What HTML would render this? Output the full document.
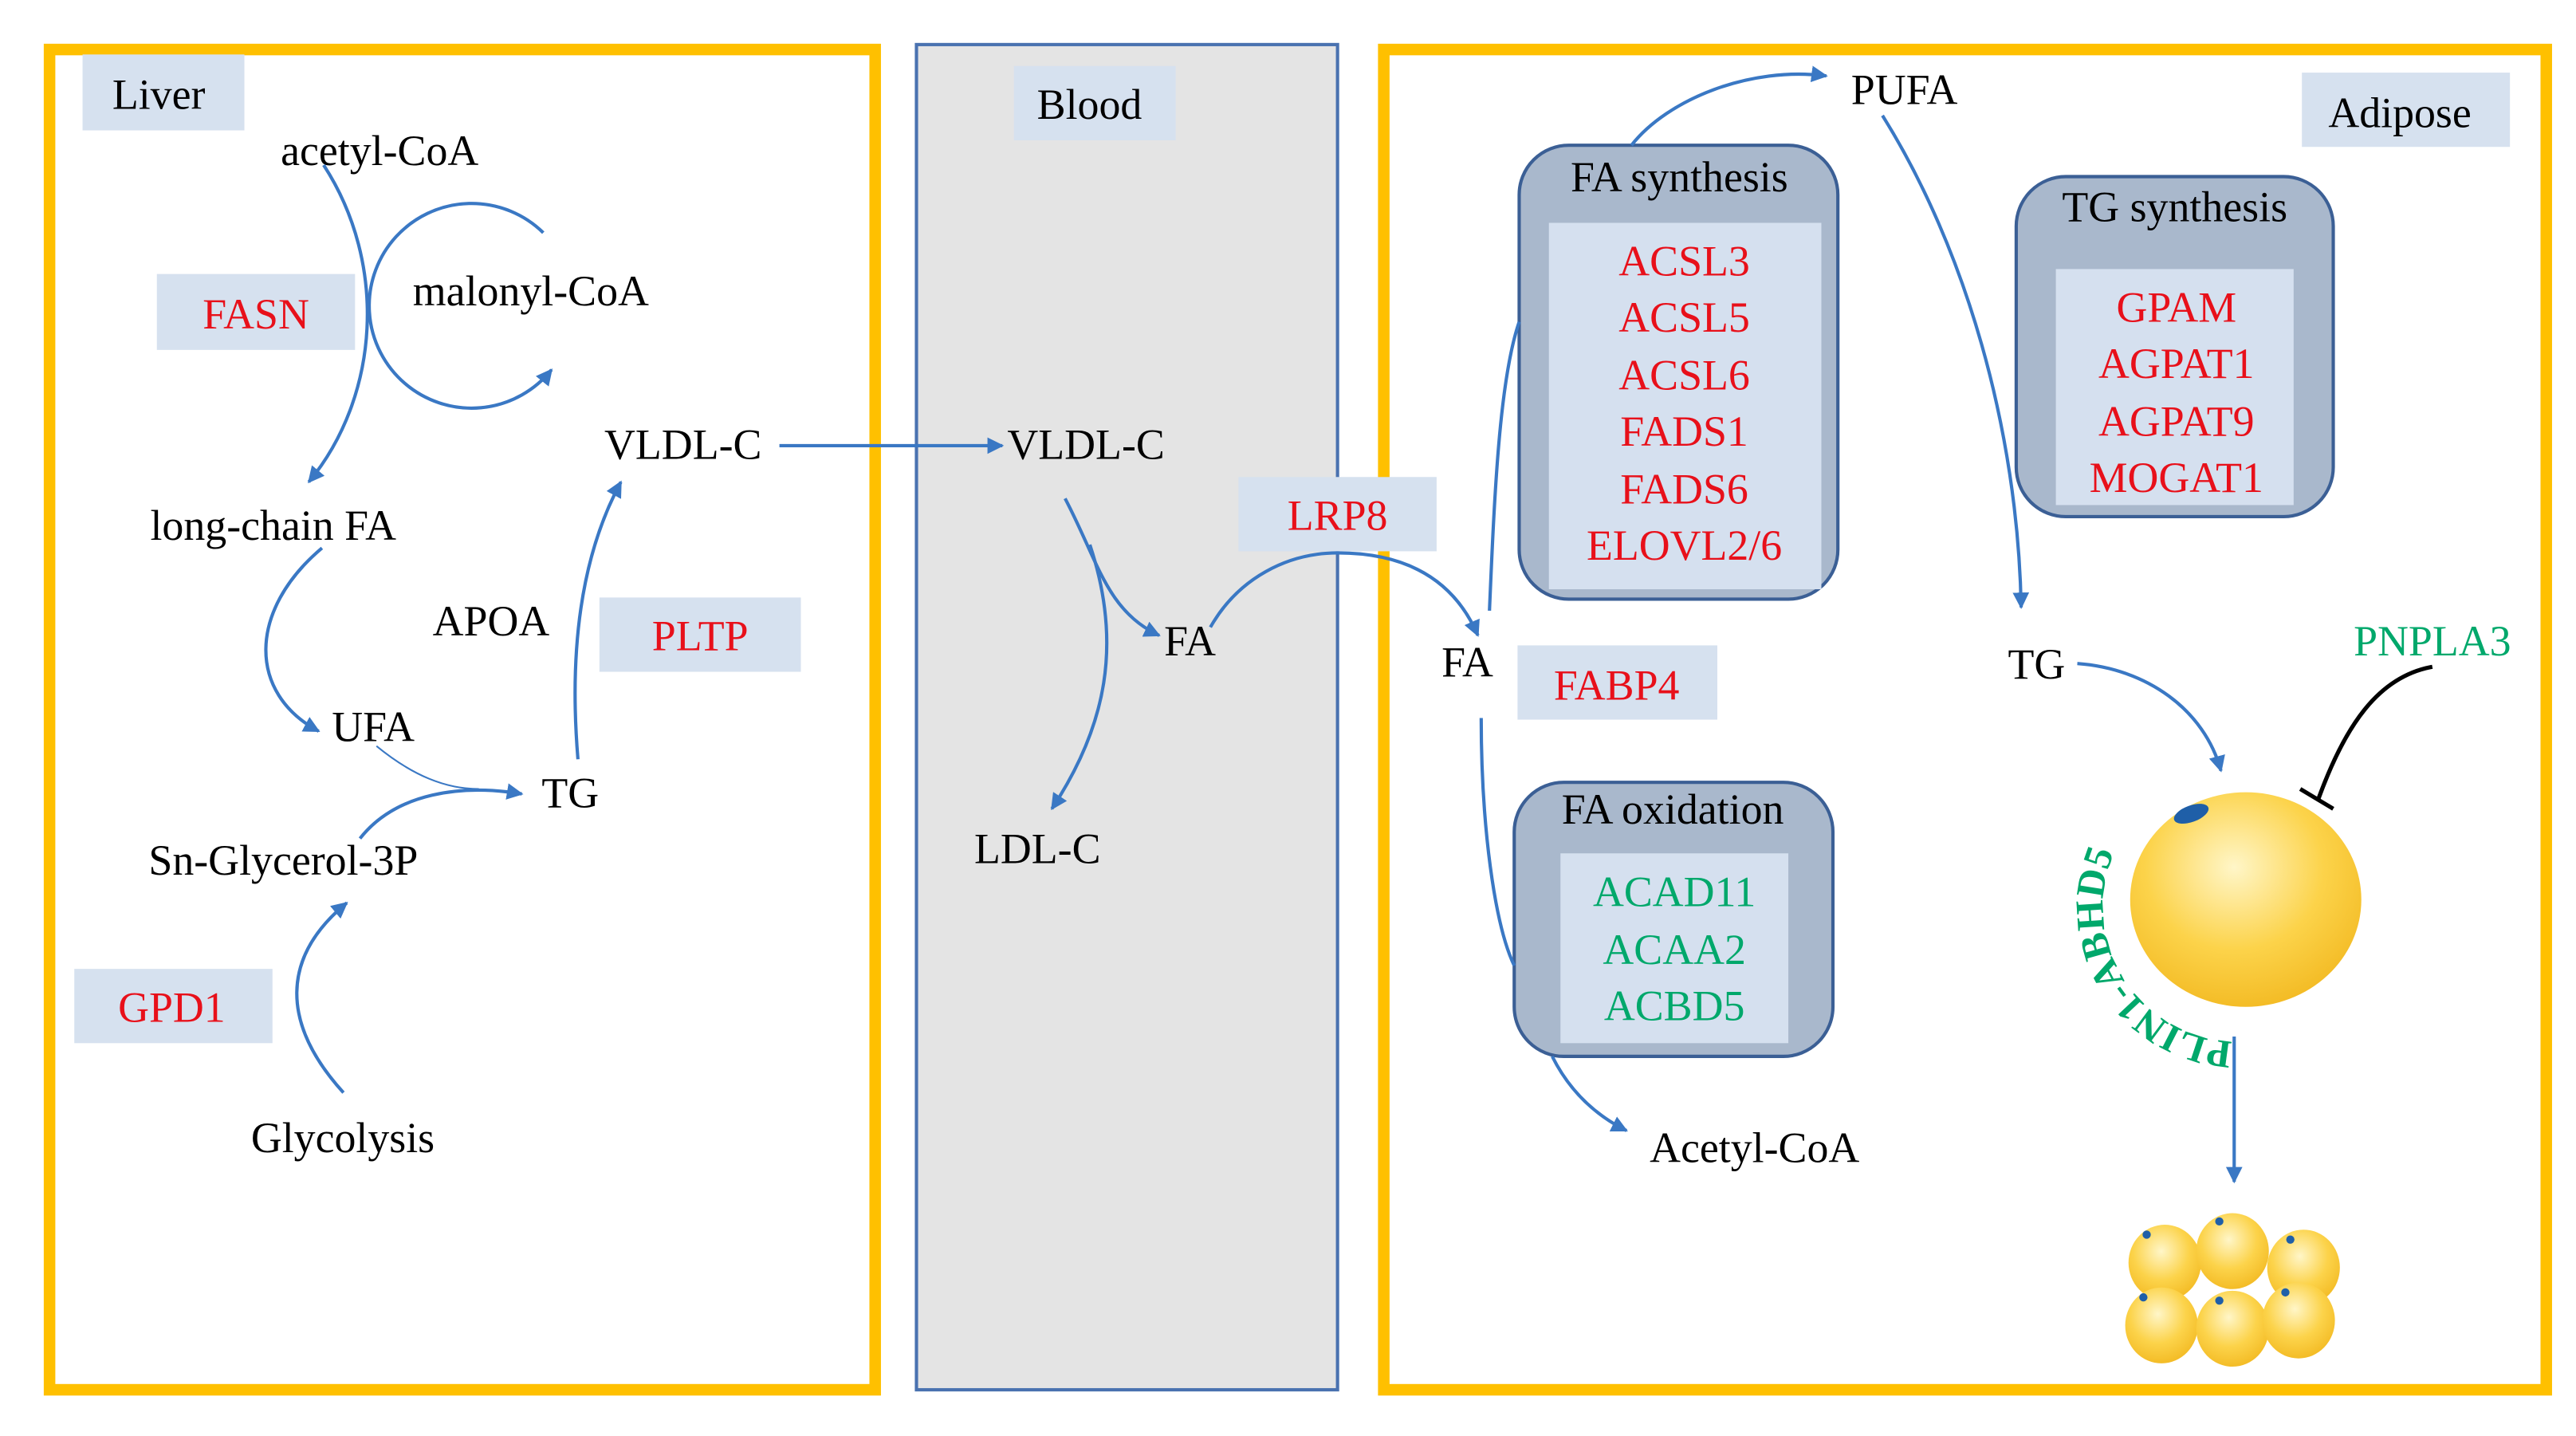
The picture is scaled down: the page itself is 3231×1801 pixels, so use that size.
<!DOCTYPE html>
<html><head><meta charset="utf-8"><style>html,body{margin:0;padding:0;background:#fff}svg{display:block}</style></head>
<body>
<svg width="3231" height="1801" viewBox="0 0 1560 870" preserveAspectRatio="none" xmlns="http://www.w3.org/2000/svg" font-family="'Liberation Serif', serif">
<defs>
<marker id="a" viewBox="0 0 10 10" refX="9" refY="5" markerWidth="5" markerHeight="5" orient="auto"><path d="M0,0 L10,5 L0,10 z" fill="#3a78c4"/></marker>
<radialGradient id="g" cx="0.45" cy="0.35" r="0.7"><stop offset="0" stop-color="#fff6c8"/><stop offset="0.55" stop-color="#fcd34a"/><stop offset="1" stop-color="#f2b820"/></radialGradient>
</defs>
<rect x="0" y="0" width="1560" height="870" fill="#fff"/>
<rect x="30" y="30" width="500" height="812" fill="#fff" stroke="#ffc000" stroke-width="7"/>
<rect x="555" y="27" width="255" height="815" fill="#e4e4e4" stroke="#4a72b0" stroke-width="2"/>
<rect x="838" y="30" width="704" height="812" fill="#fff" stroke="#ffc000" stroke-width="7"/>
<g fill="#d6e1ef">
<rect x="50" y="33" width="98" height="46"/><rect x="614" y="40" width="98" height="45"/><rect x="1394" y="44" width="126" height="45"/>
<rect x="95" y="166" width="120" height="46"/><rect x="363" y="362" width="122" height="45"/><rect x="45" y="587" width="120" height="45"/>
<rect x="750" y="289" width="120" height="45"/><rect x="919" y="391" width="121" height="45"/>
</g>
<g fill="#a9b8cc" stroke="#3b5f95" stroke-width="2">
<rect x="920" y="88" width="193" height="275" rx="30"/><rect x="1221" y="107" width="192" height="206" rx="30"/><rect x="917" y="474" width="193" height="166" rx="30"/>
</g>
<g fill="#d5e0ef"><rect x="938" y="135" width="165" height="222"/><rect x="1245" y="163" width="144" height="143"/><rect x="945" y="517" width="138" height="115"/></g>
<g font-size="26" fill="#000">
<text x="68" y="66">Liver</text><text x="628" y="72">Blood</text><text x="1410" y="77">Adipose</text>
<text x="170" y="100">acetyl-CoA</text><text x="250" y="185">malonyl-CoA</text><text x="366" y="278">VLDL-C</text>
<text x="91" y="327">long-chain FA</text><text x="262" y="385">APOA</text><text x="201" y="449">UFA</text><text x="328" y="489">TG</text>
<text x="90" y="530">Sn-Glycerol-3P</text><text x="152" y="698">Glycolysis</text>
<text x="610" y="278">VLDL-C</text><text x="705" y="397">FA</text><text x="590" y="523">LDL-C</text>
<text x="1121" y="63">PUFA</text><text x="873" y="410">FA</text><text x="1216" y="411">TG</text><text x="999" y="704">Acetyl-CoA</text>
<text x="1017" y="116" text-anchor="middle">FA synthesis</text><text x="1317" y="134" text-anchor="middle">TG synthesis</text><text x="1013" y="499" text-anchor="middle">FA oxidation</text>
</g>
<g font-size="26" fill="#e8101a" text-anchor="middle">
<text x="155" y="199">FASN</text><text x="424" y="394">PLTP</text><text x="104" y="619">GPD1</text><text x="810" y="321">LRP8</text><text x="979" y="424">FABP4</text>
<text x="1020" y="167">ACSL3</text><text x="1020" y="201">ACSL5</text><text x="1020" y="236">ACSL6</text><text x="1020" y="270">FADS1</text><text x="1020" y="305">FADS6</text><text x="1020" y="339">ELOVL2/6</text>
<text x="1318" y="195">GPAM</text><text x="1318" y="229">AGPAT1</text><text x="1318" y="264">AGPAT9</text><text x="1318" y="298">MOGAT1</text>
</g>
<g font-size="26" fill="#00a86b" text-anchor="middle">
<text x="1014" y="549">ACAD11</text><text x="1014" y="584">ACAA2</text><text x="1014" y="618">ACBD5</text>
<text x="1473" y="397">PNPLA3</text>
</g>
<g fill="none" stroke="#3a78c4" stroke-width="2">
<path d="M196,100 C235,160 230,240 187,292" marker-end="url(#a)"/>
<path d="M329,141 A62,62 0 1 0 334,224" marker-end="url(#a)"/>
<path d="M195,332 C150,370 150,420 193,443" marker-end="url(#a)"/>
<path d="M228,452 C250,470 270,478 290,478" stroke-width="1"/>
<path d="M218,508 C240,480 280,475 316,481" marker-end="url(#a)"/>
<path d="M350,460 C345,400 350,340 376,292" marker-end="url(#a)"/>
<path d="M208,662 C170,620 170,580 210,547" marker-end="url(#a)"/>
<path d="M472,270 L607,270" marker-end="url(#a)"/>
<path d="M645,302 C665,340 670,370 702,385" marker-end="url(#a)"/>
<path d="M660,330 C680,390 670,440 637,490" marker-end="url(#a)"/>
<path d="M733,380 C750,350 780,335 810,335 C850,335 880,350 895,385" marker-end="url(#a)"/>
<path d="M902,370 C905,300 908,230 920,195"/>
<path d="M988,88 C1010,60 1060,40 1106,46" marker-end="url(#a)"/>
<path d="M1140,70 C1190,150 1222,260 1224,368" marker-end="url(#a)"/>
<path d="M897,435 C897,500 905,560 917,585"/>
<path d="M940,640 C950,660 965,675 985,685" marker-end="url(#a)"/>
<path d="M1258,402 C1300,405 1335,430 1345,467" marker-end="url(#a)"/>
<path d="M1353,628 L1353,716" marker-end="url(#a)"/>
</g>
<path d="M1473,404 C1440,410 1420,440 1404,484" fill="none" stroke="#000" stroke-width="2.5"/>
<line x1="1393" y1="478" x2="1413" y2="490" stroke="#000" stroke-width="2.5"/>
<ellipse cx="1360" cy="545" rx="70" ry="65" fill="url(#g)"/>
<ellipse cx="1327" cy="493" rx="11" ry="5" fill="#1f5fa8" transform="rotate(-20 1327 493)"/>
<g fill="url(#g)">
<ellipse cx="1311" cy="765" rx="22" ry="23"/><ellipse cx="1352" cy="758" rx="22" ry="23"/><ellipse cx="1395" cy="768" rx="22" ry="23"/>
<ellipse cx="1309" cy="803" rx="22" ry="23"/><ellipse cx="1352" cy="805" rx="22" ry="23"/><ellipse cx="1392" cy="800" rx="22" ry="23"/>
</g>
<g fill="#1f5fa8"><circle cx="1300" cy="748" r="2.5"/><circle cx="1344" cy="740" r="2.5"/><circle cx="1387" cy="751" r="2.5"/><circle cx="1298" cy="786" r="2.5"/><circle cx="1344" cy="788" r="2.5"/><circle cx="1384" cy="783" r="2.5"/></g>
<path id="arc" d="M1352,631 A82,82 0 0 1 1302,487" fill="none"/>
<text font-size="24" font-weight="bold" fill="#00a86b"><textPath href="#arc">PLIN1-ABHD5</textPath></text>
</svg>
</body></html>
